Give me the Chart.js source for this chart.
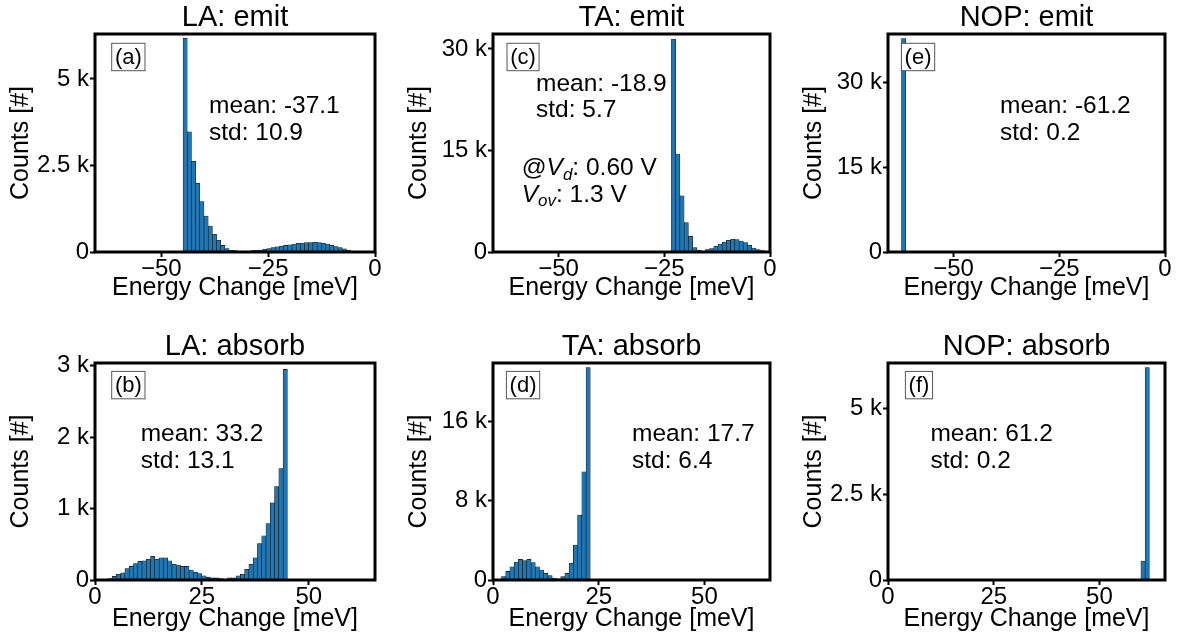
<!DOCTYPE html>
<html>
<head>
<meta charset="utf-8">
<script src="https://cdn.jsdelivr.net/npm/chart.js@4.4.0/dist/chart.umd.min.js"></script>
<style>
  html, body { margin: 0; padding: 0; background: #fff; }
  body { width: 1178px; height: 641px; position: relative; overflow: hidden; }
  canvas { position: absolute; }
</style>
</head>
<body>
<canvas id="pa"></canvas>
<canvas id="pc"></canvas>
<canvas id="pe"></canvas>
<canvas id="pb"></canvas>
<canvas id="pd"></canvas>
<canvas id="pf"></canvas>
<script>
// ---- histogram data (bin centres in meV, counts) ----
const laEmitBins = [-44.41, -43.43, -42.45, -41.47, -40.49, -39.51, -38.53, -37.55, -36.57, -35.59,
  -34.61, -33.63, -32.65, -31.67, -30.69, -29.71, -28.73, -27.75, -26.77, -25.79,
  -24.81, -23.83, -22.85, -21.87, -20.89, -19.91, -18.93, -17.95, -16.97, -15.99,
  -15.01, -14.03, -13.05, -12.07, -11.09, -10.11, -9.13, -8.15, -7.17, -6.19, -5.21];
const laEmitCounts = [6180, 3470, 2620, 1990, 1460, 1040, 750, 510, 340, 190,
  100, 50, 40, 20, 10, 30, 40, 50, 50, 80,
  100, 130, 150, 170, 190, 210, 230, 250, 260, 270,
  270, 280, 270, 250, 230, 190, 160, 130, 90, 50, 30];

const laAbsorbBins = [3.5, 4.5, 5.5, 6.5, 7.5, 8.5, 9.5, 10.5, 11.5, 12.5,
  13.5, 14.5, 15.5, 16.5, 17.5, 18.5, 19.5, 20.5, 21.5, 22.5,
  23.5, 24.5, 25.5, 26.5, 27.5, 28.5, 29.5, 30.5, 31.5, 32.5,
  33.5, 34.5, 35.5, 36.5, 37.5, 38.5, 39.5, 40.5, 41.5, 42.5, 43.5, 44.5];
const laAbsorbCounts = [20, 50, 80, 100, 160, 190, 230, 260, 270, 290,
  330, 290, 310, 310, 270, 220, 210, 190, 190, 140,
  110, 90, 60, 40, 30, 30, 20, 10, 30, 30,
  60, 80, 150, 220, 310, 510, 620, 790, 1080, 1310, 1560, 2950];

const taEmitBins = [-22.8, -21.8, -20.8, -19.8, -18.8, -17.8, -16.8, -15.8, -14.8, -13.8, -12.8,
  -11.8, -10.8, -9.8, -8.8, -7.8, -6.8, -5.8, -4.8, -3.8, -2.8, -1.8];
const taEmitCounts = [31450, 14460, 8290, 4340, 2300, 640, 250, 150, 350, 500, 840,
  1180, 1480, 1730, 1870, 1830, 1630, 1380, 990, 590, 350, 200];

const taAbsorbBins = [2.5, 3.5, 4.5, 5.5, 6.5, 7.5, 8.5, 9.5, 10.5, 11.5, 12.5,
  13.5, 14.5, 15.5, 16.5, 17.5, 18.5, 19.5, 20.5, 21.5, 22.5];
const taAbsorbCounts = [340, 870, 1340, 1820, 2080, 1950, 2080, 1750, 1340, 1000, 670,
  440, 200, 130, 340, 670, 1680, 3530, 6550, 10920, 21450];

const nopEmitBins = [-62.8, -61.8];
const nopEmitCounts = [0, 37800];

const nopAbsorbBins = [60.3, 61.3];
const nopAbsorbCounts = [550, 6180];

// ---- axis ticks and ranges ----
const emitTicks = [-50, -25, 0];
const absorbTicks = [0, 25, 50];
const laEmitYTicks = [0, 2500, 5000];
const taEmitYTicks = [0, 15000, 30000];
const nopEmitYTicks = [0, 15000, 30000];
const laAbsorbYTicks = [0, 1000, 2000, 3000];
const taAbsorbYTicks = [0, 8000, 16000];
const nopAbsorbYTicks = [0, 2500, 5000];

const fam = "'Liberation Sans', Arial, Helvetica, sans-serif";
Chart.defaults.font.family = fam;
Chart.defaults.color = '#000';

// frame, panel tag and mean/std notes
const panelText = {
    id: 'panelText',
    afterDraw(chart, args, opts) {
        const ctx = chart.ctx;
        const a = chart.chartArea;
        ctx.save();

        ctx.font = '22px ' + fam;
        const tw = ctx.measureText(opts.tag).width;
        const bx = a.left + opts.tagAt[0], by = a.top + opts.tagAt[1];
        ctx.fillStyle = '#fff';
        ctx.fillRect(bx, by, tw + 6.4, 27.4);
        ctx.strokeStyle = '#555';
        ctx.lineWidth = 1;
        ctx.strokeRect(bx, by, tw + 6.4, 27.4);
        ctx.fillStyle = '#000';
        ctx.textBaseline = 'middle';
        ctx.fillText(opts.tag, bx + 3.2, by + 14.2);

        ctx.textBaseline = 'alphabetic';
        opts.notes.forEach(n => {
            let x = a.left + n.x;
            const y = a.top + n.y;
            n.segs.forEach(s => {
                const sz = s.sub ? 17 : 24.5;
                ctx.font = (s.it ? 'italic ' : '') + sz + 'px ' + fam;
                ctx.fillText(s.t, x, y + (s.sub ? 4.5 : 0));
                x += ctx.measureText(s.t).width;
            });
        });

        ctx.strokeStyle = '#000';
        ctx.lineWidth = 3;
        ctx.strokeRect(a.left, a.top, a.right - a.left, a.bottom - a.top);
        ctx.restore();
    }
};

const plain = (x, y, t) => ({x: x, y: y, segs: [{t: t}]});

const panels = [
    { id: 'pa', left: 0, top: 0, width: 390, height: 310, axisH: 58, padRight: 15, title: 'LA: emit',
      bins: laEmitBins, counts: laEmitCounts, xMin: -65.5, xMax: 0, xTicks: emitTicks,
      yMax: 6300, yTicks: laEmitYTicks, tag: '(a)', tagAt: [16.7, 9.3],
      notes: [plain(114, 79.3, 'mean: -37.1'), plain(114, 106, 'std: 10.9')] },
    { id: 'pc', left: 398, top: 0, width: 387, height: 310, axisH: 58, padRight: 15, title: 'TA: emit',
      bins: taEmitBins, counts: taEmitCounts, xMin: -65.5, xMax: 0, xTicks: emitTicks,
      yMax: 32200, yTicks: taEmitYTicks, tag: '(c)', tagAt: [14, 9.3],
      notes: [plain(43, 56.7, 'mean: -18.9'), plain(43, 83.3, 'std: 5.7'),
        {x: 28.7, y: 141, segs: [{t: '@'}, {t: 'V', it: true}, {t: 'd', it: true, sub: true}, {t: ': 0.60 V'}]},
        {x: 28.7, y: 167.7, segs: [{t: 'V', it: true}, {t: 'ov', it: true, sub: true}, {t: ': 1.3 V'}]}] },
    { id: 'pe', left: 793, top: 0, width: 385, height: 310, axisH: 58, padRight: 13, title: 'NOP: emit',
      bins: nopEmitBins, counts: nopEmitCounts, xMin: -65.5, xMax: 0, xTicks: emitTicks,
      yMax: 38600, yTicks: nopEmitYTicks, tag: '(e)', tagAt: [13.4, 9.3],
      notes: [plain(112, 79.3, 'mean: -61.2'), plain(112, 106, 'std: 0.2')] },
    { id: 'pb', left: 0, top: 329, width: 390, height: 312, axisH: 61, padRight: 15, title: 'LA: absorb',
      bins: laAbsorbBins, counts: laAbsorbCounts, xMin: 0, xMax: 65.5, xTicks: absorbTicks,
      yMax: 3040, yTicks: laAbsorbYTicks, tag: '(b)', tagAt: [16.7, 8.4],
      notes: [plain(45.7, 78.4, 'mean: 33.2'), plain(45.7, 104.8, 'std: 13.1')] },
    { id: 'pd', left: 398, top: 329, width: 387, height: 312, axisH: 61, padRight: 15, title: 'TA: absorb',
      bins: taAbsorbBins, counts: taAbsorbCounts, xMin: 0, xMax: 65.5, xTicks: absorbTicks,
      yMax: 21900, yTicks: taAbsorbYTicks, tag: '(d)', tagAt: [13.4, 8.4],
      notes: [plain(139, 78.4, 'mean: 17.7'), plain(139, 104.8, 'std: 6.4')] },
    { id: 'pf', left: 793, top: 329, width: 385, height: 312, axisH: 61, padRight: 13, title: 'NOP: absorb',
      bins: nopAbsorbBins, counts: nopAbsorbCounts, xMin: 0, xMax: 65.5, xTicks: absorbTicks,
      yMax: 6310, yTicks: nopAbsorbYTicks, tag: '(f)', tagAt: [17.4, 8.4],
      notes: [plain(42.4, 78.4, 'mean: 61.2'), plain(42.4, 104.8, 'std: 0.2')] }
];

const tickGrid = { display: true, drawOnChartArea: false, drawTicks: true, tickLength: 5, tickWidth: 2, tickColor: '#000', offset: false };

panels.forEach(p => {
    const cv = document.getElementById(p.id);
    cv.width = p.width;
    cv.height = p.height;
    cv.style.left = p.left + 'px';
    cv.style.top = p.top + 'px';

    new Chart(cv.getContext('2d'), {
        type: 'bar',
        data: {
            datasets: [{
                data: p.bins.map((x, i) => ({x: x, y: p.counts[i]})),
                backgroundColor: '#1f77b4',
                borderColor: '#111',
                borderWidth: 0.6,
                barPercentage: 1,
                categoryPercentage: 1
            }]
        },
        options: {
            responsive: false,
            animation: false,
            devicePixelRatio: 1,
            layout: { padding: { top: 1, right: p.padRight, left: 0, bottom: 0 } },
            plugins: {
                legend: { display: false },
                tooltip: { enabled: false },
                title: { display: true, text: p.title, fullSize: false, padding: 0,
                         font: { size: 29, weight: 'normal', lineHeight: 1.138 }, color: '#000' },
                panelText: { tag: p.tag, tagAt: p.tagAt, notes: p.notes }
            },
            scales: {
                x: {
                    type: 'linear', offset: false, min: p.xMin, max: p.xMax,
                    grid: tickGrid, border: { display: false },
                    afterBuildTicks: s => { s.ticks = p.xTicks.map(v => ({value: v})); },
                    afterFit: s => { s.height = p.axisH; },
                    ticks: { autoSkip: false, maxRotation: 0, padding: 0,
                             font: { size: 24, lineHeight: 1 }, color: '#000',
                             callback: v => v < 0 ? '\u2212' + Math.abs(v) : String(v) },
                    title: { display: true, text: 'Energy Change [meV]', font: { size: 25 },
                             color: '#000', padding: { top: 0, bottom: 6.5 } }
                },
                y: {
                    min: 0, max: p.yMax,
                    grid: tickGrid, border: { display: false },
                    afterBuildTicks: s => { s.ticks = p.yTicks.map(v => ({value: v})); },
                    afterFit: s => { s.width = 95; },
                    ticks: { autoSkip: false, padding: 1, font: { size: 24 }, color: '#000',
                             callback: v => v === 0 ? '0' : (v / 1000) + ' k' },
                    title: { display: true, text: 'Counts [#]', font: { size: 25 },
                             color: '#000', padding: { top: 6, bottom: 0 } }
                }
            }
        },
        plugins: [panelText]
    });
});
</script>
</body>
</html>
